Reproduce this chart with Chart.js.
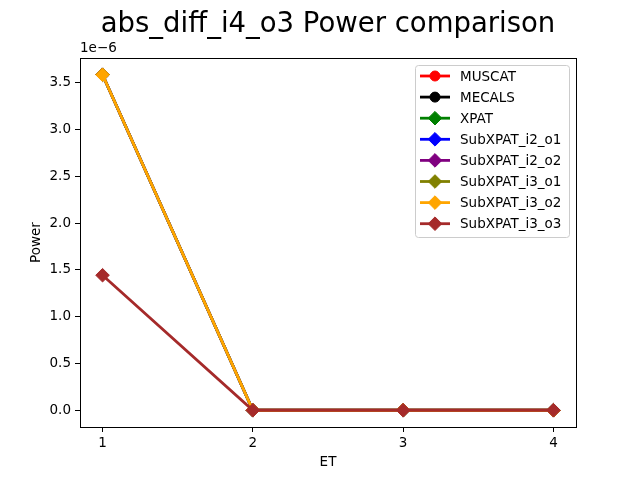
<!DOCTYPE html>
<html>
<head>
<meta charset="utf-8">
<script src="https://cdn.jsdelivr.net/npm/chart.js@4"></script>
<style>
  html, body { margin: 0; padding: 0; background: #fff; }
  #wrap { width: 640px; height: 480px; }
</style>
</head>
<body>
<div id="wrap"><canvas id="grafico"></canvas></div>
<script>
// datos (Power en W)
const etValues = [1, 2, 3, 4];
const yTicks = [0, 0.5e-6, 1.0e-6, 1.5e-6, 2.0e-6, 2.5e-6, 3.0e-6, 3.5e-6];
const muscat = [];
const mecals = [];
const xpat = [3.585e-6, 0, 0, 0];
const subI2O1 = [3.585e-6, 0, 0, 0];
const subI2O2 = [3.585e-6, 0, 0, 0];
const subI3O1 = [3.585e-6, 0, 0, 0];
const subI3O2 = [3.585e-6, 0, 0, 0];
const subI3O3 = [1.443e-6, 0, 0, 0];

const FONT = "'DejaVu Sans', sans-serif";

function puntos(vals) {
    return vals.map((v, i) => ({ x: etValues[i], y: v }));
}

function serie(label, vals, color, marker, idx) {
    return {
        label: label,
        data: puntos(vals),
        order: 20 - idx, // el ultimo encima, como matplotlib
        borderColor: color,
        backgroundColor: color,
        pointBackgroundColor: color,
        pointBorderColor: color,
        borderWidth: 2.8,
        pointBorderWidth: 1,
        pointStyle: marker,
        pointRadius: marker === 'circle' ? 5 : 6.8,
        pointHoverRadius: marker === 'circle' ? 5 : 6.8,
        tension: 0,
        fill: false
    };
}

const datasets = [
    serie('MUSCAT', muscat, 'red', 'circle', 0),
    serie('MECALS', mecals, 'black', 'circle', 1),
    serie('XPAT', xpat, 'green', 'rectRot', 2),
    serie('SubXPAT_i2_o1', subI2O1, 'blue', 'rectRot', 3),
    serie('SubXPAT_i2_o2', subI2O2, 'purple', 'rectRot', 4),
    serie('SubXPAT_i3_o1', subI3O1, 'olive', 'rectRot', 5),
    serie('SubXPAT_i3_o2', subI3O2, 'orange', 'rectRot', 6),
    serie('SubXPAT_i3_o3', subI3O3, 'brown', 'rectRot', 7)
];

// titulo, etiquetas, marco y leyenda a la manera de matplotlib
const extras = {
    id: 'extras',
    afterDraw(chart) {
        const ctx = chart.ctx;
        const a = chart.chartArea;
        ctx.save();
        // marco
        ctx.strokeStyle = '#000';
        ctx.lineWidth = 1;
        ctx.strokeRect(Math.round(a.left) + 0.5, Math.round(a.top) + 0.5,
            Math.round(a.right - a.left), Math.round(a.bottom - a.top));
        ctx.fillStyle = '#000';
        // titulo
        ctx.font = '27.5px ' + FONT;
        ctx.textAlign = 'center';
        ctx.textBaseline = 'middle';
        ctx.fillText('abs_diff_i4_o3 Power comparison', 328, 25);
        // etiquetas de ejes
        ctx.font = '13.5px ' + FONT;
        ctx.fillText('ET', (a.left + a.right) / 2, 462);
        ctx.save();
        ctx.translate(36, (a.top + a.bottom) / 2);
        ctx.rotate(-Math.PI / 2);
        ctx.fillText('Power', 0, 0);
        ctx.restore();
        ctx.textAlign = 'left';
        ctx.textBaseline = 'alphabetic';
        ctx.fillText('1e\u22126', a.left, 52);
        // leyenda
        const bx = 415, by = 65, bw = 154, bh = 172;
        ctx.fillStyle = 'rgba(255,255,255,0.8)';
        ctx.strokeStyle = '#cccccc';
        ctx.lineWidth = 1;
        ctx.beginPath();
        ctx.roundRect(bx + 0.5, by + 0.5, bw, bh, 3);
        ctx.fill();
        ctx.stroke();
        ctx.textBaseline = 'middle';
        ctx.font = '13.5px ' + FONT;
        chart.data.datasets.forEach((ds, i) => {
            const yy = 76 + i * 21.1;
            ctx.strokeStyle = ds.borderColor;
            ctx.lineWidth = 2.8;
            ctx.beginPath();
            ctx.moveTo(420, yy);
            ctx.lineTo(450, yy);
            ctx.stroke();
            ctx.fillStyle = ds.borderColor;
            ctx.lineWidth = 1;
            Chart.helpers.drawPoint(ctx, {
                pointStyle: ds.pointStyle,
                radius: ds.pointRadius,
                borderWidth: 1,
                rotation: 0
            }, 435, yy);
            ctx.fillStyle = '#000';
            ctx.fillText(ds.label, 460, yy + 1);
        });
        ctx.restore();
    }
};

const ctx = document.getElementById('grafico').getContext('2d');
const myChart = new Chart(ctx, {
    type: 'line',
    data: { datasets: datasets },
    options: {
        responsive: true,
        maintainAspectRatio: false,
        animation: false,
        layout: { padding: { top: 58, right: 64, left: 0, bottom: 0 } },
        plugins: {
            legend: { display: false },
            title: { display: false },
            tooltip: { enabled: false }
        },
        scales: {
            x: {
                type: 'linear',
                min: 0.85,
                max: 4.15,
                afterBuildTicks: (s) => { s.ticks = etValues.map(v => ({ value: v })); },
                afterFit: (s) => { s.height = 53; },
                grid: { drawOnChartArea: false, drawTicks: true, tickLength: 5, color: '#000' },
                border: { display: true, color: '#000' },
                ticks: {
                    color: '#000',
                    font: { family: FONT, size: 13.5 },
                    padding: 3,
                    maxRotation: 0,
                    callback: (v) => String(v)
                }
            },
            y: {
                type: 'linear',
                min: -0.179e-6,
                max: 3.764e-6,
                afterBuildTicks: (s) => { s.ticks = yTicks.map(v => ({ value: v })); },
                afterFit: (s) => { s.width = 80; },
                grid: { drawOnChartArea: false, drawTicks: true, tickLength: 5, color: '#000' },
                border: { display: true, color: '#000' },
                ticks: {
                    color: '#000',
                    font: { family: FONT, size: 13.5 },
                    padding: 4,
                    callback: (v) => (v * 1e6).toFixed(1)
                }
            }
        }
    },
    plugins: [extras]
});
</script>
</body>
</html>
